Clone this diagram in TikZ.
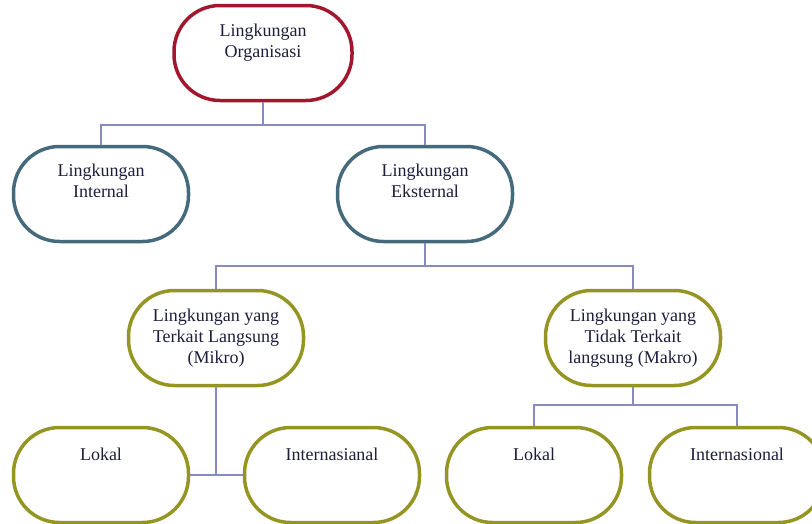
\documentclass[tikz,border=0pt]{standalone}
\usepackage{fontspec}
\setmainfont{Liberation Serif}
\definecolor{orgred}{HTML}{A3172E}
\definecolor{slateblue}{HTML}{456A7C}
\definecolor{olive}{HTML}{959524}
\definecolor{linkviolet}{HTML}{8A8AC2}
\definecolor{inktext}{HTML}{1E1E3C}
\usetikzlibrary{positioning,calc}

\begin{document}
\begin{tikzpicture}[x=1pt,y=-1pt,
  box/.style={fill=white,line width=3.5pt,rounded corners=46pt,
              minimum width=175pt,minimum height=95pt,
              font=\fontsize{18}{21}\selectfont,text=inktext,align=center},
  orgbox/.style={box,draw=orgred,minimum width=178pt},
  mainbox/.style={box,draw=slateblue},
  subbox/.style={box,draw=olive},
  conn/.style={draw=linkviolet,line width=1.8pt}
]
\useasboundingbox (0,0) rectangle (812,523);

\node[orgbox] (org) at (263,53) {Lingkungan\\Organisasi\\[4pt]};
\node[mainbox] (internal) at (101,194) {Lingkungan\\Internal\\[6pt]};
\node[mainbox] (eksternal) at (425,194) {Lingkungan\\Eksternal\\[6pt]};
\node[subbox] (mikro) at (216,338) {Lingkungan yang\\Terkait Langsung\\(Mikro)};
\node[subbox] (makro) at (633,338) {Lingkungan yang\\Tidak Terkait\\langsung (Makro)};
\node[subbox] (lokalmi) at (101,475) {Lokal\\~\\~};
\node[subbox] (internmi) at (332,475) {Internasianal\\~\\~};
\node[subbox] (lokalma) at (534,475) {Lokal\\~\\~};
\node[subbox] (internma) at (737,475) {Internasional\\~\\~};

\coordinate (j1) at (263,125);
\coordinate (j2) at (425,266);
\coordinate (j3) at (633,405);

\draw[conn] (org.south) -- (j1);
\draw[conn] (internal.north) |- (j1) -| (eksternal.north);
\draw[conn] (eksternal.south) -- (j2);
\draw[conn] (mikro.north) |- (j2) -| (makro.north);
\draw[conn] (mikro.south) -- (mikro.south |- lokalmi.east);
\draw[conn] (lokalmi.east) -- (internmi.west);
\draw[conn] (makro.south) -- (j3);
\draw[conn] (lokalma.north) |- (j3) -| (internma.north);
\end{tikzpicture}
\end{document}
